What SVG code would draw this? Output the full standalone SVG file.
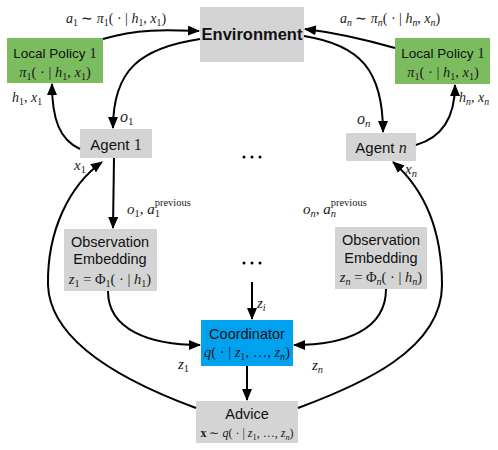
<svg xmlns="http://www.w3.org/2000/svg" width="498" height="450" viewBox="0 0 498 450">
<defs>
<marker id="ah" markerUnits="userSpaceOnUse" markerWidth="12" markerHeight="10" refX="11" refY="5" orient="auto">
<path d="M0,0 L12,5 L0,10 z" fill="#000"/>
</marker>
<style>
.gray{fill:#d4d4d4}
.green{fill:#7bbc5e}
.blue{fill:#00a2ef}
.sans{font-family:"Liberation Sans",Arial,sans-serif;fill:#111}
.m{font-family:"Liberation Serif","Times New Roman",serif;fill:#1a1a1a}
.i{font-style:italic}
.s{font-size:70%}
.c{stroke:#000;stroke-width:2;fill:none;marker-end:url(#ah)}
.dot{fill:#000}
</style>
</defs>
<rect width="498" height="450" fill="#fff"/>

<g id="environment">
<rect class="gray" x="200" y="7" width="104" height="55"/>
<text class="sans" x="252" y="40" text-anchor="middle" font-size="16.5" font-weight="bold">Environment</text>
</g>

<g id="local-policy-1">
<rect class="green" x="7" y="38" width="96" height="45"/>
<text class="sans" x="55" y="58" text-anchor="middle" font-size="13.5">Local Policy <tspan class="m" font-size="15">1</tspan></text>
<text class="m" x="55" y="77" text-anchor="middle" font-size="14.5"><tspan class="i">π</tspan><tspan class="s" dy="3">1</tspan><tspan dy="-3">( · | </tspan><tspan class="i">h</tspan><tspan class="s" dy="3">1</tspan><tspan dy="-3">, </tspan><tspan class="i">x</tspan><tspan class="s" dy="3">1</tspan><tspan dy="-3">)</tspan></text>
</g>

<g id="local-policy-n">
<rect class="green" x="395" y="38" width="95" height="46"/>
<text class="sans" x="443" y="58" text-anchor="middle" font-size="13.5">Local Policy <tspan class="m" font-size="15">1</tspan></text>
<text class="m" x="443" y="77" text-anchor="middle" font-size="14.5"><tspan class="i">π</tspan><tspan class="s" dy="3">1</tspan><tspan dy="-3">( · | </tspan><tspan class="i">h</tspan><tspan class="s" dy="3">1</tspan><tspan dy="-3">, </tspan><tspan class="i">x</tspan><tspan class="s" dy="3">1</tspan><tspan dy="-3">)</tspan></text>
</g>

<g id="agent-1">
<rect class="gray" x="80" y="129" width="72" height="29"/>
<text class="sans" x="116" y="150" text-anchor="middle" font-size="15">Agent <tspan class="m" font-size="16">1</tspan></text>
</g>

<g id="agent-n">
<rect class="gray" x="346" y="133" width="70" height="28"/>
<text class="sans" x="381" y="153" text-anchor="middle" font-size="15">Agent <tspan class="m i" font-size="16">n</tspan></text>
</g>

<g id="obs-embedding-1">
<rect class="gray" x="64" y="229" width="93" height="62"/>
<text class="sans" x="110" y="247" text-anchor="middle" font-size="14.5">Observation</text>
<text class="sans" x="110" y="264" text-anchor="middle" font-size="14.5">Embedding</text>
<text class="m" x="110" y="284" text-anchor="middle" font-size="14.5"><tspan class="i">z</tspan><tspan class="s" dy="3">1</tspan><tspan dy="-3"> = Φ</tspan><tspan class="s" dy="3">1</tspan><tspan dy="-3">( · | </tspan><tspan class="i">h</tspan><tspan class="s" dy="3">1</tspan><tspan dy="-3">)</tspan></text>
</g>

<g id="obs-embedding-n">
<rect class="gray" x="335" y="227" width="92" height="62"/>
<text class="sans" x="381" y="245" text-anchor="middle" font-size="14.5">Observation</text>
<text class="sans" x="381" y="263" text-anchor="middle" font-size="14.5">Embedding</text>
<text class="m" x="381" y="282" text-anchor="middle" font-size="14.5"><tspan class="i">z</tspan><tspan class="s i" dy="3">n</tspan><tspan dy="-3"> = Φ</tspan><tspan class="s i" dy="3">n</tspan><tspan dy="-3">( · | </tspan><tspan class="i">h</tspan><tspan class="s i" dy="3">n</tspan><tspan dy="-3">)</tspan></text>
</g>

<g id="coordinator">
<rect class="blue" x="201" y="320" width="92" height="46"/>
<text class="sans" x="247" y="339" text-anchor="middle" font-size="14.5">Coordinator</text>
<text class="m" x="247" y="357" text-anchor="middle" font-size="14.5"><tspan class="i">q</tspan>( · | <tspan class="i">z</tspan><tspan class="s" dy="3">1</tspan><tspan dy="-3">, …, </tspan><tspan class="i">z</tspan><tspan class="s i" dy="3">n</tspan><tspan dy="-3">)</tspan></text>
</g>

<g id="advice">
<rect class="gray" x="196" y="401" width="102" height="42"/>
<text class="sans" x="247" y="419" text-anchor="middle" font-size="14.5">Advice</text>
<text class="m" x="247" y="437" text-anchor="middle" font-size="12"><tspan font-weight="bold">x</tspan> ∼ <tspan class="i">q</tspan>( · | <tspan class="i">z</tspan><tspan class="s" dy="3">1</tspan><tspan dy="-3">, …, </tspan><tspan class="i">z</tspan><tspan class="s i" dy="3">n</tspan><tspan dy="-3">)</tspan></text>
</g>

<g id="ellipsis">
<circle class="dot" cx="244" cy="157" r="1.5"/><circle class="dot" cx="252" cy="157" r="1.5"/><circle class="dot" cx="260" cy="157" r="1.5"/>
<circle class="dot" cx="244" cy="263" r="1.5"/><circle class="dot" cx="252" cy="263" r="1.5"/><circle class="dot" cx="260" cy="263" r="1.5"/>
</g>

<g id="connectors">
<path class="c" d="M103,39 C140,28 170,30 199,31"/>
<path class="c" d="M200,39 C140,48 113,70 113,128"/>
<path class="c" d="M80,149 C60,140 52,120 52,84"/>
<path class="c" d="M114,158 L113,228"/>
<path class="c" d="M108,291 C108,330 150,345 200,345"/>
<path class="c" d="M196,408 C120,380 50,340 48,285 C47,230 70,185 102,162"/>
<path class="c" d="M298,408 C360,385 442,350 442,285 C442,230 425,190 393,162"/>
<path class="c" d="M386,289 C386,330 345,345 294,345"/>
<path class="c" d="M247,366 L247,400"/>
<path class="c" d="M252,282 L252,319"/>
<path class="c" d="M304,36 C360,45 383,70 383,132"/>
<path class="c" d="M395,48 C360,38 330,32 305,29"/>
<path class="c" d="M416,145 C440,138 455,120 455,85"/>
</g>

<g id="labels">
<text class="m" x="116" y="23" text-anchor="middle" font-size="14"><tspan class="i">a</tspan><tspan class="s" dy="3">1</tspan><tspan dy="-3"> ∼ </tspan><tspan class="i">π</tspan><tspan class="s" dy="3">1</tspan><tspan dy="-3">( · | </tspan><tspan class="i">h</tspan><tspan class="s" dy="3">1</tspan><tspan dy="-3">, </tspan><tspan class="i">x</tspan><tspan class="s" dy="3">1</tspan><tspan dy="-3">)</tspan></text>
<text class="m" x="390" y="23" text-anchor="middle" font-size="14"><tspan class="i">a</tspan><tspan class="s i" dy="3">n</tspan><tspan dy="-3"> ∼ </tspan><tspan class="i">π</tspan><tspan class="s i" dy="3">n</tspan><tspan dy="-3">( · | </tspan><tspan class="i">h</tspan><tspan class="s i" dy="3">n</tspan><tspan dy="-3">, </tspan><tspan class="i">x</tspan><tspan class="s i" dy="3">n</tspan><tspan dy="-3">)</tspan></text>
<text class="m" x="12" y="102" font-size="14"><tspan class="i">h</tspan><tspan class="s" dy="3">1</tspan><tspan dy="-3">, </tspan><tspan class="i">x</tspan><tspan class="s" dy="3">1</tspan></text>
<text class="m" x="459" y="102" font-size="14"><tspan class="i">h</tspan><tspan class="s i" dy="3">n</tspan><tspan dy="-3">, </tspan><tspan class="i">x</tspan><tspan class="s i" dy="3">n</tspan></text>
<text class="m" x="120" y="122" font-size="16"><tspan class="i">o</tspan><tspan font-size="11" dy="3">1</tspan></text>
<text class="m" x="357" y="124" font-size="16"><tspan class="i">o</tspan><tspan class="i" font-size="11" dy="3">n</tspan></text>
<text class="m" x="74" y="170" font-size="15"><tspan class="i">x</tspan><tspan class="s" dy="3">1</tspan></text>
<text class="m" x="405" y="174" font-size="15"><tspan class="i">x</tspan><tspan class="s i" dy="3">n</tspan></text>
<text class="m" x="127" y="214" font-size="15"><tspan class="i">o</tspan><tspan class="s" dy="3">1</tspan><tspan dy="-3">, </tspan><tspan class="i">a</tspan><tspan font-size="10.5" dy="3">1</tspan><tspan font-size="10.5" dx="-5.3" dy="-11">previous</tspan></text>
<text class="m" x="303" y="214" font-size="15"><tspan class="i">o</tspan><tspan class="s i" dy="3">n</tspan><tspan dy="-3">, </tspan><tspan class="i">a</tspan><tspan class="i" font-size="10.5" dy="3">n</tspan><tspan font-size="10.5" dx="-5.3" dy="-11">previous</tspan></text>
<text class="m" x="257" y="308" font-size="15"><tspan class="i">z</tspan><tspan class="s i" dy="3">i</tspan></text>
<text class="m" x="178" y="369" font-size="15"><tspan class="i">z</tspan><tspan class="s" dy="3">1</tspan></text>
<text class="m" x="312" y="370" font-size="15"><tspan class="i">z</tspan><tspan class="s i" dy="3">n</tspan></text>
</g>
</svg>
